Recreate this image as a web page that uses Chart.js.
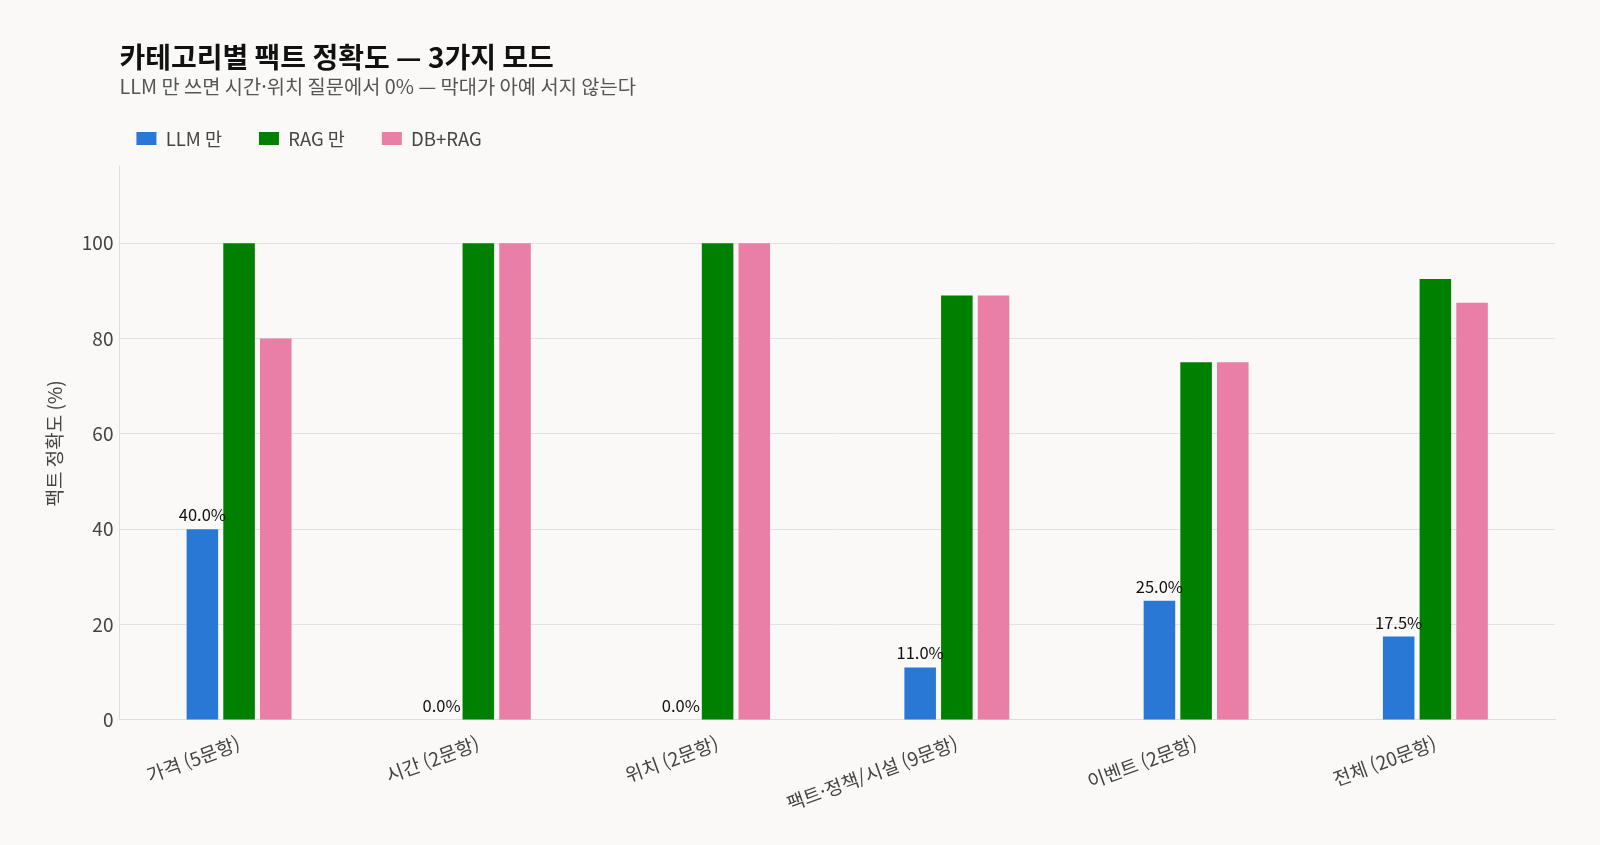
<!DOCTYPE html>
<html lang="ko">
<head>
<meta charset="utf-8">
<title>카테고리별 팩트 정확도</title>
<script src="https://cdn.jsdelivr.net/npm/chart.js@4.4.0/dist/chart.umd.min.js"></script>
<style>
  html, body { margin: 0; padding: 0; background: #faf9f7; }
  #wrap { width: 1600px; height: 845px; position: relative; }
</style>
</head>
<body>
<div id="wrap"><canvas id="grafico"></canvas></div>
<script>
// Datos del gráfico
const categorias = ['가격 (5문항)', '시간 (2문항)', '위치 (2문항)', '팩트·정책/시설 (9문항)', '이벤트 (2문항)', '전체 (20문항)'];
const soloLLM = [40.0, 0.0, 0.0, 11.0, 25.0, 17.5];
const soloRAG = [100, 100, 100, 89, 75, 92.5];
const dbRAG = [80, 100, 100, 89, 75, 87.5];
const ticksY = [0, 20, 40, 60, 80, 100];

const fuente = "'Noto Sans CJK KR', 'Noto Sans', sans-serif";

// Etiquetas de valor sobre las barras de LLM
const etiquetasLLM = {
    id: 'etiquetasLLM',
    afterDatasetsDraw(chart) {
        const ctx = chart.ctx;
        const meta = chart.getDatasetMeta(0);
        ctx.save();
        ctx.font = '16.5px ' + fuente;
        ctx.fillStyle = '#111';
        ctx.textAlign = 'center';
        ctx.textBaseline = 'bottom';
        meta.data.forEach((bar, i) => {
            ctx.fillText(soloLLM[i].toFixed(1) + '%', bar.x, bar.y - 6);
        });
        ctx.restore();
    }
};

// Mover la leyenda un poco (el padding grande separa los elementos)
const ajusteLeyenda = {
    id: 'ajusteLeyenda',
    afterLayout(chart) {
        const l = chart.legend;
        l.left -= 20;
        l.right -= 20;
        l.top -= 9;
        l.bottom -= 9;
    }
};

const ctx = document.getElementById('grafico').getContext('2d');

new Chart(ctx, {
    type: 'bar',
    data: {
        labels: categorias,
        datasets: [{
            label: 'LLM 만',
            data: soloLLM,
            backgroundColor: '#2a78d6'
        }, {
            label: 'RAG 만',
            data: soloRAG,
            backgroundColor: '#008000'
        }, {
            label: 'DB+RAG',
            data: dbRAG,
            backgroundColor: '#e97ea6'
        }]
    },
    options: {
        responsive: true,
        maintainAspectRatio: false,
        animation: false,
        devicePixelRatio: 1,
        categoryPercentage: 0.46,
        barPercentage: 0.86,
        layout: {
            padding: { top: 33, right: 45, bottom: 26, left: 39 }
        },
        scales: {
            x: {
                grid: { display: false },
                border: { display: true, color: '#dddddd' },
                ticks: {
                    color: '#444',
                    font: { family: fuente, size: 19 },
                    minRotation: 20,
                    maxRotation: 20,
                    padding: 4
                }
            },
            y: {
                min: 0,
                max: 116,
                afterBuildTicks(scale) {
                    scale.ticks = ticksY.map(v => ({ value: v }));
                },
                grid: { color: '#e2e2e2', drawTicks: false },
                border: { display: true, color: '#dddddd' },
                ticks: {
                    color: '#444',
                    font: { family: fuente, size: 19 },
                    padding: 6
                },
                title: {
                    display: true,
                    text: '팩트 정확도 (%)',
                    color: '#444',
                    font: { family: fuente, size: 19 },
                    padding: { bottom: 10 }
                }
            }
        },
        plugins: {
            title: {
                display: true,
                fullSize: false,
                align: 'start',
                text: '카테고리별 팩트 정확도 — 3가지 모드',
                color: '#111',
                font: { family: fuente, size: 28, weight: 'bold' },
                padding: { top: 8, bottom: 0 }
            },
            subtitle: {
                display: true,
                fullSize: false,
                align: 'start',
                text: 'LLM 만 쓰면 시간·위치 질문에서 0% — 막대가 아예 서지 않는다',
                color: '#555',
                font: { family: fuente, size: 19.8 },
                padding: { top: 0, bottom: 3 }
            },
            legend: {
                fullSize: false,
                align: 'start',
                labels: {
                    color: '#444',
                    font: { family: fuente, size: 18.5 },
                    boxWidth: 20,
                    boxHeight: 13,
                    padding: 37
                }
            },
            tooltip: { enabled: false }
        }
    },
    plugins: [etiquetasLLM, ajusteLeyenda]
});
</script>
</body>
</html>
